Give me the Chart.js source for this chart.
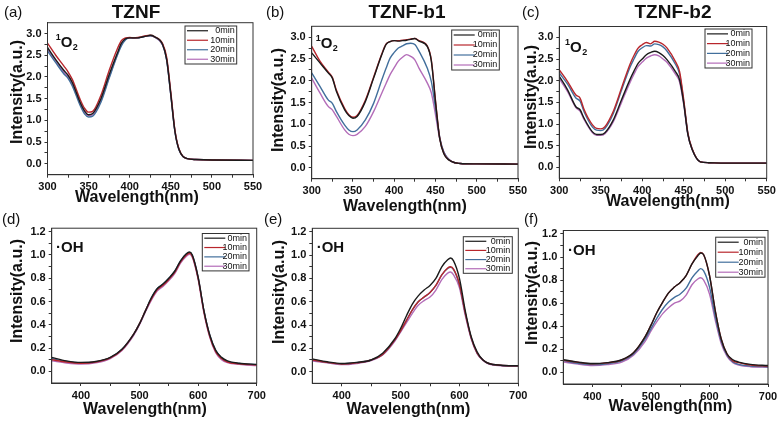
<!DOCTYPE html>
<html>
<head>
<meta charset="utf-8">
<script src="https://cdn.jsdelivr.net/npm/chart.js@4.4.1/dist/chart.umd.min.js"></script>
<style>
  body { margin: 0; width: 784px; height: 426px; background: #fff; position: relative; overflow: hidden; font-family: "Liberation Sans", Arial, sans-serif; }
  canvas { position: absolute; }
  .lbl { position: absolute; font-size: 15px; line-height: 1; color: #111; white-space: nowrap; }
  .ttl { position: absolute; font-size: 19px; font-weight: bold; line-height: 1; color: #111; transform: translateX(-50%); white-space: nowrap; }
</style>
</head>
<body>
<canvas id="pa"></canvas>
<canvas id="pb"></canvas>
<canvas id="pc"></canvas>
<canvas id="pd"></canvas>
<canvas id="pe"></canvas>
<canvas id="pf"></canvas>

<div class="lbl" style="left:4px;top:4px">(a)</div>
<div class="ttl" style="left:136px;top:2px">TZNF</div>
<div class="lbl" style="left:266px;top:4px">(b)</div>
<div class="ttl" style="left:407px;top:2px">TZNF-b1</div>
<div class="lbl" style="left:522px;top:4px">(c)</div>
<div class="ttl" style="left:673px;top:2px">TZNF-b2</div>
<div class="lbl" style="left:2px;top:211px">(d)</div>
<div class="lbl" style="left:264px;top:211px">(e)</div>
<div class="lbl" style="left:524px;top:211px">(f)</div>

<script>
// ---------- data ----------
const timeLabels = ["0min", "10min", "20min", "30min"];

const wlO2 = [300, 310, 320, 325, 330, 340, 345, 350, 355, 365, 375, 385, 390, 395, 400, 405, 410, 415, 420, 425, 430, 440, 445, 450, 455, 460, 470, 480, 500, 550];
const wlOH = [350, 375, 400, 425, 450, 470, 490, 500, 510, 520, 530, 540, 550, 560, 570, 580, 585, 590, 600, 610, 620, 630, 640, 650, 670, 700];

// (a) TZNF, 1O2
const tznf0 = [2.68, 2.40, 2.15, 2.04, 1.88, 1.40, 1.22, 1.13, 1.16, 1.50, 2.05, 2.55, 2.78, 2.88, 2.90, 2.90, 2.90, 2.92, 2.94, 2.96, 2.93, 2.75, 2.40, 1.60, 0.75, 0.33, 0.12, 0.10, 0.09, 0.08];
const tznf10 = [2.78, 2.50, 2.25, 2.12, 1.95, 1.47, 1.28, 1.19, 1.21, 1.58, 2.15, 2.65, 2.84, 2.90, 2.91, 2.90, 2.91, 2.93, 2.95, 2.96, 2.93, 2.77, 2.45, 1.65, 0.78, 0.34, 0.12, 0.10, 0.09, 0.08];
const tznf20 = [2.60, 2.33, 2.07, 1.97, 1.80, 1.33, 1.15, 1.08, 1.10, 1.42, 1.97, 2.50, 2.72, 2.86, 2.90, 2.89, 2.90, 2.92, 2.94, 2.95, 2.92, 2.74, 2.38, 1.58, 0.74, 0.32, 0.12, 0.10, 0.09, 0.08];
const tznf30 = [2.64, 2.37, 2.11, 2.00, 1.84, 1.37, 1.19, 1.11, 1.13, 1.46, 2.00, 2.52, 2.75, 2.87, 2.90, 2.90, 2.90, 2.92, 2.94, 2.95, 2.92, 2.74, 2.40, 1.60, 0.76, 0.33, 0.12, 0.10, 0.09, 0.08];

// (b) TZNF-b1, 1O2
const b1_0 = [2.64, 2.41, 2.18, 2.06, 1.75, 1.33, 1.20, 1.14, 1.18, 1.52, 2.06, 2.60, 2.83, 2.90, 2.92, 2.91, 2.92, 2.93, 2.95, 2.97, 2.91, 2.79, 2.45, 1.52, 0.68, 0.33, 0.14, 0.10, 0.09, 0.085];
const b1_10 = [2.79, 2.45, 2.20, 2.08, 1.78, 1.36, 1.22, 1.16, 1.20, 1.55, 2.08, 2.62, 2.84, 2.90, 2.92, 2.92, 2.93, 2.94, 2.96, 2.97, 2.92, 2.80, 2.47, 1.55, 0.70, 0.34, 0.14, 0.10, 0.09, 0.085];
const b1_20 = [2.18, 1.87, 1.56, 1.48, 1.29, 0.98, 0.87, 0.83, 0.87, 1.10, 1.48, 2.02, 2.28, 2.52, 2.65, 2.75, 2.80, 2.85, 2.86, 2.83, 2.68, 2.29, 1.98, 1.37, 0.72, 0.37, 0.14, 0.10, 0.09, 0.085];
const b1_30 = [2.06, 1.72, 1.41, 1.33, 1.18, 0.87, 0.77, 0.74, 0.77, 0.95, 1.29, 1.72, 1.93, 2.14, 2.30, 2.45, 2.54, 2.60, 2.56, 2.48, 2.29, 1.95, 1.72, 1.22, 0.68, 0.37, 0.14, 0.10, 0.09, 0.085];

// (c) TZNF-b2, 1O2
const b2_0 = [2.10, 1.79, 1.40, 1.33, 1.13, 0.82, 0.76, 0.76, 0.80, 1.09, 1.56, 2.02, 2.22, 2.40, 2.50, 2.60, 2.65, 2.68, 2.65, 2.58, 2.48, 2.21, 2.02, 1.48, 0.76, 0.42, 0.13, 0.11, 0.10, 0.10];
const b2_10 = [2.25, 1.98, 1.67, 1.60, 1.33, 0.98, 0.90, 0.89, 0.94, 1.29, 1.83, 2.37, 2.58, 2.75, 2.83, 2.88, 2.85, 2.91, 2.89, 2.84, 2.75, 2.44, 2.21, 1.56, 0.79, 0.44, 0.13, 0.11, 0.10, 0.10];
const b2_20 = [2.18, 1.92, 1.60, 1.53, 1.28, 0.93, 0.86, 0.85, 0.90, 1.24, 1.78, 2.30, 2.50, 2.68, 2.76, 2.81, 2.80, 2.85, 2.83, 2.78, 2.68, 2.38, 2.15, 1.52, 0.78, 0.43, 0.13, 0.11, 0.10, 0.10];
const b2_30 = [2.05, 1.75, 1.38, 1.30, 1.10, 0.80, 0.74, 0.74, 0.78, 1.05, 1.50, 1.95, 2.15, 2.33, 2.43, 2.52, 2.57, 2.60, 2.57, 2.50, 2.42, 2.15, 1.97, 1.45, 0.75, 0.42, 0.13, 0.11, 0.10, 0.10];

// (d) TZNF, .OH
const ohA0 = [0.12, 0.09, 0.077, 0.085, 0.12, 0.19, 0.32, 0.41, 0.52, 0.63, 0.71, 0.75, 0.80, 0.86, 0.95, 1.01, 1.025, 1.00, 0.81, 0.52, 0.31, 0.18, 0.12, 0.09, 0.07, 0.06];
const ohA10 = [0.10, 0.08, 0.07, 0.08, 0.115, 0.185, 0.32, 0.41, 0.52, 0.62, 0.70, 0.74, 0.79, 0.85, 0.94, 1.00, 1.015, 0.99, 0.80, 0.51, 0.30, 0.17, 0.11, 0.08, 0.065, 0.055];
const ohA20 = [0.11, 0.085, 0.073, 0.082, 0.118, 0.19, 0.32, 0.41, 0.52, 0.63, 0.71, 0.75, 0.80, 0.86, 0.95, 1.01, 1.02, 1.00, 0.81, 0.52, 0.31, 0.18, 0.115, 0.085, 0.068, 0.058];
const ohA30 = [0.09, 0.072, 0.063, 0.073, 0.11, 0.18, 0.31, 0.40, 0.51, 0.61, 0.69, 0.73, 0.78, 0.84, 0.93, 0.99, 1.005, 0.98, 0.79, 0.50, 0.29, 0.16, 0.10, 0.075, 0.06, 0.05];

// (e) TZNF-b1, .OH
const ohB0 = [0.11, 0.085, 0.07, 0.08, 0.10, 0.16, 0.28, 0.37, 0.48, 0.58, 0.65, 0.70, 0.74, 0.80, 0.90, 0.96, 0.975, 0.95, 0.80, 0.52, 0.30, 0.17, 0.10, 0.07, 0.055, 0.05];
const ohB10 = [0.10, 0.08, 0.065, 0.075, 0.10, 0.15, 0.27, 0.35, 0.44, 0.53, 0.60, 0.64, 0.68, 0.74, 0.83, 0.89, 0.90, 0.88, 0.75, 0.50, 0.29, 0.16, 0.10, 0.07, 0.055, 0.05];
const ohB20 = [0.10, 0.08, 0.066, 0.076, 0.10, 0.15, 0.27, 0.35, 0.44, 0.53, 0.60, 0.64, 0.68, 0.74, 0.83, 0.885, 0.895, 0.875, 0.745, 0.50, 0.29, 0.16, 0.10, 0.07, 0.055, 0.05];
const ohB30 = [0.09, 0.075, 0.06, 0.07, 0.095, 0.145, 0.26, 0.34, 0.42, 0.50, 0.57, 0.61, 0.64, 0.70, 0.79, 0.845, 0.855, 0.83, 0.72, 0.48, 0.28, 0.155, 0.095, 0.065, 0.05, 0.045];

// (f) TZNF-b2, .OH
const ohC0 = [0.11, 0.09, 0.077, 0.085, 0.11, 0.17, 0.31, 0.41, 0.52, 0.61, 0.69, 0.74, 0.78, 0.84, 0.94, 1.01, 1.035, 1.02, 0.84, 0.53, 0.29, 0.16, 0.11, 0.09, 0.07, 0.06];
const ohC10 = [0.105, 0.088, 0.075, 0.083, 0.108, 0.17, 0.31, 0.41, 0.52, 0.61, 0.69, 0.74, 0.78, 0.84, 0.94, 1.02, 1.04, 1.02, 0.84, 0.53, 0.29, 0.16, 0.10, 0.085, 0.065, 0.055];
const ohC20 = [0.10, 0.08, 0.068, 0.076, 0.10, 0.16, 0.29, 0.38, 0.47, 0.55, 0.61, 0.65, 0.68, 0.73, 0.82, 0.88, 0.90, 0.88, 0.74, 0.48, 0.27, 0.15, 0.09, 0.07, 0.055, 0.05];
const ohC30 = [0.09, 0.072, 0.06, 0.068, 0.09, 0.15, 0.27, 0.36, 0.44, 0.51, 0.56, 0.60, 0.62, 0.67, 0.76, 0.81, 0.82, 0.80, 0.68, 0.45, 0.25, 0.14, 0.085, 0.065, 0.05, 0.045];

// tick positions (majors get labels, the rest are minor ticks)
const o2XTicks = [300, 325, 350, 375, 400, 425, 450, 475, 500, 525, 550];
const o2YTicks = [0, 0.25, 0.5, 0.75, 1.0, 1.25, 1.5, 1.75, 2.0, 2.25, 2.5, 2.75, 3.0];
const ohXTicks = [400, 450, 500, 550, 600, 650, 700];
const ohYTicks = [0, 0.1, 0.2, 0.3, 0.4, 0.5, 0.6, 0.7, 0.8, 0.9, 1.0, 1.1, 1.2];

// ---------- styling ----------
const lineColors = ["#1b1b1b", "#b8262c", "#426f9c", "#b46db9"];
Chart.defaults.font.family = '"Liberation Sans", Arial, sans-serif';
Chart.defaults.color = "#111";

const isStep = (v, s) => Math.abs(v / s - Math.round(v / s)) < 1e-6;

// frame around the plot area (top and right edges too)
const framePlugin = {
    id: "frame",
    afterDatasetsDraw(chart) {
        const { ctx, chartArea: a } = chart;
        ctx.save();
        ctx.strokeStyle = "#333";
        ctx.lineWidth = 1;
        ctx.strokeRect(a.left, a.top, a.right - a.left, a.bottom - a.top);
        ctx.restore();
    }
};

// legend drawn as a small boxed key inside the plot
const boxLegend = {
    id: "boxLegend",
    afterDraw(chart, args, opts) {
        const { ctx, chartArea: a } = chart;
        const x0 = a.right - opts.right - opts.w, y0 = a.top + opts.top;
        ctx.save();
        ctx.fillStyle = "#fff";
        ctx.fillRect(x0, y0, opts.w, opts.h);
        ctx.strokeStyle = "#333";
        ctx.lineWidth = 1;
        ctx.strokeRect(x0, y0, opts.w, opts.h);
        ctx.font = '9px "Liberation Sans"';
        ctx.textAlign = "right";
        ctx.textBaseline = "middle";
        const step = opts.h / chart.data.datasets.length;
        chart.data.datasets.forEach((ds, i) => {
            const yy = y0 + step * (i + 0.5);
            ctx.strokeStyle = ds.borderColor;
            ctx.lineWidth = 1.2;
            ctx.beginPath();
            ctx.moveTo(x0 + 2, yy);
            ctx.lineTo(x0 + 23, yy);
            ctx.stroke();
            ctx.fillStyle = "#111";
            ctx.fillText(ds.label, x0 + opts.w - 2, yy);
        });
        ctx.restore();
    }
};

// species tag in the upper left corner
const tagPlugin = {
    id: "tag",
    afterDraw(chart, args, opts) {
        const { ctx, chartArea: a } = chart;
        const x = a.left + opts.x, y = a.top + opts.y;
        ctx.save();
        ctx.fillStyle = "#111";
        ctx.textAlign = "left";
        ctx.textBaseline = "alphabetic";
        if (opts.kind === "O2") {
            ctx.font = 'bold 9px "Liberation Sans"';
            ctx.fillText("1", x - 5, y - 7);
            ctx.font = 'bold 15px "Liberation Sans"';
            ctx.fillText("O", x, y);
            const w = ctx.measureText("O").width;
            ctx.font = 'bold 9px "Liberation Sans"';
            ctx.fillText("2", x + w + 0.5, y + 3);
        } else {
            ctx.font = 'bold 15px "Liberation Sans"';
            ctx.fillText("\u00B7OH", x, y);
        }
        ctx.restore();
    }
};

// axis titles, placed where the original figure has them (page coordinates)
const axisTitles = {
    id: "axisTitles",
    afterDraw(chart, args, opts) {
        const { ctx } = chart;
        ctx.save();
        ctx.fillStyle = "#111";
        ctx.font = 'bold 16px "Liberation Sans"';
        ctx.textAlign = "center";
        ctx.textBaseline = "middle";
        ctx.fillText(opts.xText, opts.xAt[0] - opts.origin[0], opts.xAt[1] - opts.origin[1]);
        ctx.translate(opts.yAt[0] - opts.origin[0], opts.yAt[1] - opts.origin[1]);
        ctx.rotate(-Math.PI / 2);
        ctx.fillText(opts.yText, 0, 0);
        ctx.restore();
    }
};

// ---------- panels ----------
const o2Axes = { xMin: 300, xMax: 550, yMin: -0.25, yMax: 3.25, xTicks: o2XTicks, yTicks: o2YTicks, xMajor: 50, yMajor: 0.5 };
const ohAxes = { xMin: 350, xMax: 700, yMin: -0.1, yMax: 1.23, xTicks: ohXTicks, yTicks: ohYTicks, xMajor: 100, yMajor: 0.2 };

const panels = [
    { id: "pa", canvas: [0, 0, 270, 218], plot: [47.5, 22.7, 253, 174.7], xAt: [137, 198], yAt: [18, 92], axes: o2Axes, x: wlO2,
      series: [tznf0, tznf10, tznf20, tznf30], legend: { right: 16.3, top: 3.3, w: 51.7, h: 38 }, tag: { kind: "O2", x: 13.2, y: 24.3 } },
    { id: "pb", canvas: [262, 0, 270, 218], plot: [311.7, 26.3, 518, 178.7], xAt: [405, 207], yAt: [278.5, 100], axes: o2Axes, x: wlO2,
      series: [b1_0, b1_10, b1_20, b1_30], legend: { right: 18.7, top: 3.7, w: 47.6, h: 40 }, tag: { kind: "O2", x: 9, y: 21.4 } },
    { id: "pc", canvas: [518, 0, 266, 218], plot: [559.3, 26.5, 766.7, 178.3], xAt: [668, 202], yAt: [531.5, 97], axes: o2Axes, x: wlO2,
      series: [b2_0, b2_10, b2_20, b2_30], legend: { right: 14.7, top: 2.5, w: 47, h: 39 }, tag: { kind: "O2", x: 10.7, y: 25.8 } },
    { id: "pd", canvas: [0, 210, 270, 216], plot: [51.7, 228.2, 256.7, 383], xAt: [145, 409.5], yAt: [17.5, 291], axes: ohAxes, x: wlOH,
      series: [ohA0, ohA10, ohA20, ohA30], legend: { right: 7.7, top: 5.3, w: 46.7, h: 37.4 }, tag: { kind: "OH", x: 4.3, y: 23.5 } },
    { id: "pe", canvas: [262, 210, 270, 216], plot: [312.3, 228.3, 518.3, 383.3], xAt: [408.5, 410], yAt: [279.5, 292], axes: ohAxes, x: wlOH,
      series: [ohB0, ohB10, ohB20, ohB30], legend: { right: 6, top: 8.4, w: 49, h: 36.6 }, tag: { kind: "OH", x: 4.4, y: 24 } },
    { id: "pf", canvas: [518, 210, 266, 216], plot: [563.3, 230.5, 768, 384], xAt: [670.5, 407], yAt: [532.5, 293], axes: ohAxes, x: wlOH,
      series: [ohC0, ohC10, ohC20, ohC30], legend: { right: 3, top: 6.7, w: 49.3, h: 40 }, tag: { kind: "OH", x: 4.7, y: 24 } }
];

function makePanel(p) {
    const cv = document.getElementById(p.id);
    const [L, T, W, H] = p.canvas;
    const [pl, pt, pr, pb] = p.plot;
    const ax = p.axes;
    cv.width = W;
    cv.height = H;
    cv.style.left = L + "px";
    cv.style.top = T + "px";

    const tickFont = { size: 11, weight: "bold" };
    const grid = { drawOnChartArea: false, drawTicks: true, tickLength: 3, color: "#333" };
    const border = { display: true, color: "#333", width: 1 };

    new Chart(cv, {
        type: "line",
        data: {
            datasets: p.series.map((s, i) => ({
                label: timeLabels[i],
                data: p.x.map((x, j) => ({ x: x, y: s[j] })),
                borderColor: lineColors[i],
                borderWidth: 1.4,
                pointRadius: 0,
                cubicInterpolationMode: "monotone",
                fill: false
            }))
        },
        options: {
            responsive: false,
            animation: false,
            layout: { padding: { top: pt - T, right: L + W - pr, left: 0, bottom: 0 } },
            plugins: {
                legend: { display: false },
                tooltip: { enabled: false },
                boxLegend: p.legend,
                tag: p.tag,
                axisTitles: { xText: "Wavelength(nm)", yText: "Intensity(a.u.)", xAt: p.xAt, yAt: p.yAt, origin: [L, T] }
            },
            scales: {
                x: {
                    type: "linear",
                    min: ax.xMin, max: ax.xMax,
                    afterFit: s => { s.height = T + H - pb; },
                    afterBuildTicks: s => { s.ticks = ax.xTicks.map(v => ({ value: v })); },
                    ticks: { autoSkip: false, maxRotation: 0, padding: 3, font: tickFont,
                             callback: v => isStep(v, ax.xMajor) ? String(v) : "" },
                    grid: grid,
                    border: border
                },
                y: {
                    min: ax.yMin, max: ax.yMax,
                    afterFit: s => { s.width = pl - L; },
                    afterBuildTicks: s => { s.ticks = ax.yTicks.map(v => ({ value: v })); },
                    ticks: { autoSkip: false, padding: 3, font: tickFont,
                             callback: v => isStep(v, ax.yMajor) ? v.toFixed(1) : "" },
                    grid: grid,
                    border: border
                }
            }
        },
        plugins: [framePlugin, boxLegend, tagPlugin, axisTitles]
    });
}

panels.forEach(makePanel);
</script>
</body>
</html>
